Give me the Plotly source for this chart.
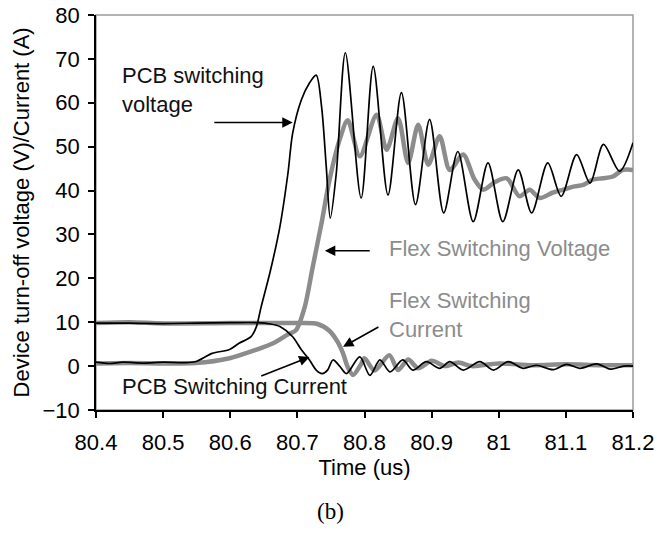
import plotly.graph_objects as go

# ---- data ----
pcb_v_t = [80.40, 80.42, 80.44, 80.47, 80.50, 80.53, 80.548, 80.573, 80.599, 80.613, 80.631, 80.639,
           80.646, 80.659, 80.674, 80.686, 80.693, 80.706, 80.718, 80.728, 80.736, 80.743, 80.749,
           80.758, 80.7715, 80.795, 80.813, 80.835, 80.855, 80.876, 80.897, 80.918, 80.939, 80.962,
           80.984, 81.006, 81.029, 81.049, 81.073, 81.093, 81.116, 81.136, 81.156, 81.18, 81.2]
pcb_v = [0.9, 0.6, 0.9, 0.7, 0.9, 0.8, 1.0, 2.9, 3.8, 5.2, 6.7, 9.0,
         13.5, 21.2, 31.8, 44.0, 53.1, 60.7, 64.5, 66.3, 59.2, 45.5, 33.7,
         44.0, 71.4, 38.3, 68.3, 39.0, 62.3, 36.8, 56.2, 34.9, 48.9, 32.9,
         46.3, 32.9, 44.7, 34.9, 46.3, 38.7, 48.2, 41.7, 50.5, 44.4, 50.9]

flex_v_t = [80.40, 80.45, 80.50, 80.548, 80.599, 80.638, 80.664, 80.687, 80.698, 80.711, 80.723,
            80.736, 80.748, 80.763, 80.775, 80.793, 80.818, 80.833, 80.85, 80.865, 80.88, 80.895,
            80.912, 80.927, 80.947, 80.964, 80.977, 80.995, 81.012, 81.031, 81.046, 81.061, 81.08,
            81.096, 81.111, 81.126, 81.14, 81.155, 81.17, 81.185, 81.2]
flex_v = [0.6, 0.7, 0.6, 0.7, 1.8, 3.7, 5.2, 7.3, 8.2, 13.5, 22.7,
          32.6, 42.5, 51.6, 56.0, 47.8, 57.3, 49.3, 56.5, 46.3, 55.0, 45.9,
          52.4, 44.7, 48.2, 42.5, 40.2, 42.0, 42.8, 38.7, 40.2, 38.3, 39.5,
          40.2, 40.9, 41.3, 42.5, 42.8, 43.2, 44.7, 44.7]

pcb_i_t = [80.40, 80.45, 80.50, 80.55, 80.60, 80.64, 80.66, 80.674, 80.693, 80.706, 80.718, 80.728,
           80.737, 80.745, 80.753, 80.763, 80.773, 80.793, 80.808, 80.823, 80.838, 80.857, 80.872,
           80.892, 80.912, 80.927, 80.947, 80.972, 80.992, 81.014, 81.036, 81.056, 81.081, 81.101,
           81.121, 81.146, 81.166, 81.186, 81.2]
pcb_i = [9.8, 9.8, 9.7, 9.8, 9.9, 9.9, 9.6, 9.0, 6.7, 3.7, 1.4, -0.9,
         -1.7, -0.9, 1.4, 0.0, -1.7, 2.1, -2.1, 1.4, -1.3, 1.4, -0.9,
         1.0, -0.5, 1.0, -0.9, 1.0, -0.9, 1.0, -0.5, 0.2, -0.8, 0.4,
         -0.5, 0.5, -0.7, 0.0, 0.0]

flex_i_t = [80.40, 80.45, 80.50, 80.60, 80.70, 80.73, 80.748, 80.76, 80.768, 80.775, 80.783, 80.795,
            80.80, 80.815, 80.837, 80.85, 80.865, 80.88, 80.90, 80.92, 80.94, 80.96, 81.0, 81.05,
            81.1, 81.15, 81.2]
flex_i = [9.8, 10.0, 9.7, 9.8, 9.8, 9.6, 8.0, 5.5, 2.9, -0.2, -2.0, 0.5,
          1.8, -1.0, 2.5, -0.9, 1.5, -0.5, 1.2, 0.0, 0.8, 0.0, 0.6, 0.2,
          0.4, 0.2, 0.2]

x_ticks = [80.4, 80.5, 80.6, 80.7, 80.8, 80.9, 81.0, 81.1, 81.2]
x_tick_text = ["80.4", "80.5", "80.6", "80.7", "80.8", "80.9", "81", "81.1", "81.2"]
y_ticks = [-10, 0, 10, 20, 30, 40, 50, 60, 70, 80]

GRAY = "#8c8c8c"
FONT = "Liberation Sans, Arial, sans-serif"
FS = 22

fig = go.Figure()
fig.add_trace(go.Scatter(x=flex_v_t, y=flex_v, mode="lines", line=dict(color=GRAY, width=4.5, shape="spline", smoothing=0.8)))
fig.add_trace(go.Scatter(x=flex_i_t, y=flex_i, mode="lines", line=dict(color=GRAY, width=4.5, shape="spline", smoothing=0.8)))
fig.add_trace(go.Scatter(x=pcb_v_t, y=pcb_v, mode="lines", line=dict(color="#000000", width=1.7, shape="spline", smoothing=0.85)))
fig.add_trace(go.Scatter(x=pcb_i_t, y=pcb_i, mode="lines", line=dict(color="#000000", width=1.7, shape="spline", smoothing=0.85)))

# frame (gray top/right)
fig.add_shape(type="rect", xref="paper", yref="paper", x0=0, x1=1, y0=0, y1=1,
              line=dict(color="#9a9a9a", width=1.5), layer="below")

def text_ann(x, y, txt, color):
    fig.add_annotation(x=x, y=y, text=txt, showarrow=False, xanchor="left", yanchor="middle",
                       align="left", font=dict(family=FONT, size=FS, color=color))

def arrow(x0, y0, x1, y1):
    fig.add_annotation(x=x1, y=y1, ax=x0, ay=y0, xref="x", yref="y", axref="x", ayref="y",
                       text="", showarrow=True, arrowhead=2, arrowsize=1.3, arrowwidth=1.6,
                       arrowcolor="#000000")

text_ann(80.436, 63.0, "PCB switching<br>voltage", "#111111")
text_ann(80.833, 26.8, "Flex Switching Voltage", GRAY)
text_ann(80.833, 11.6, "Flex Switching<br>Current", GRAY)
text_ann(80.436, -4.7, "PCB Switching Current", "#111111")

arrow(80.574, 55.5, 80.693, 55.5)
arrow(80.810, 26.3, 80.741, 26.3)
arrow(80.823, 9.1, 80.768, 4.4)
arrow(80.644, -2.4, 80.718, 2.1)

fig.add_annotation(x=0.436, y=-0.258, xref="paper", yref="paper", xanchor="center", yanchor="middle",
                   text="(b)", showarrow=False,
                   font=dict(family="Liberation Serif, Times New Roman, serif", size=23, color="#000"))

# y-axis title as rotated text
fig.add_annotation(x=-0.138, y=0.5, xref="paper", yref="paper", xanchor="center", yanchor="middle",
                   text="Device turn-off voltage (V)/Current (A)", textangle=-90, showarrow=False,
                   font=dict(family=FONT, size=FS, color="#000"))

fig.update_layout(
    width=657, height=540,
    margin=dict(l=96, r=24, t=15, b=130),
    paper_bgcolor="white", plot_bgcolor="white",
    showlegend=False,
    font=dict(family=FONT, size=FS, color="#000"),
)
fig.update_xaxes(range=[80.4, 81.2], tickvals=x_ticks, ticktext=x_tick_text, automargin=False,
                 showgrid=False, zeroline=False, showline=True, linecolor="#000", linewidth=1.5,
                 ticks="outside", ticklen=6, tickcolor="#000", tickwidth=1.5, ticklabelstandoff=6,
                 tickfont=dict(family=FONT, size=FS),
                 title=dict(text="Time (us)", font=dict(family=FONT, size=FS), standoff=0))
fig.update_yaxes(range=[-10, 80], tickvals=y_ticks, automargin=False,
                 showgrid=False, zeroline=False, showline=True, linecolor="#000", linewidth=1.5,
                 ticks="outside", ticklen=6, tickcolor="#000", tickwidth=1.5, ticklabelstandoff=4,
                 tickfont=dict(family=FONT, size=FS))

fig.write_html("out.html")
